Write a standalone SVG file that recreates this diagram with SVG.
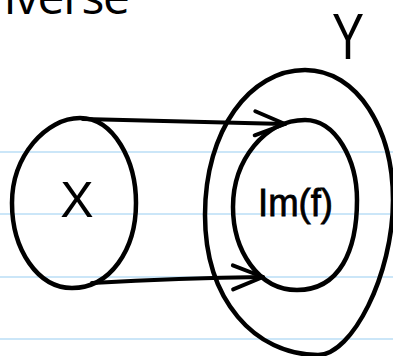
<svg xmlns="http://www.w3.org/2000/svg" width="393" height="356" viewBox="0 0 393 356">
<defs>
<style>
.rule{stroke:#cbe6f8;stroke-width:2;fill:none}
.ink{fill:none;stroke:#000;stroke-width:4.5;stroke-linecap:round;stroke-linejoin:round}
.conn{fill:none;stroke:#000;stroke-width:4;stroke-linecap:round;stroke-linejoin:round}
.hand{font-family:"Liberation Sans",Arial,sans-serif;fill:#000}
.title{font-family:"Open Sans","Liberation Sans",sans-serif;font-weight:400;fill:#000}
</style>
<marker id="head" markerUnits="userSpaceOnUse" viewBox="-34 -16 38 32" refX="0" refY="0" markerWidth="38" markerHeight="32" orient="auto" overflow="visible">
<path d="M-30,-12 L0,0 L-30,12" fill="none" stroke="#000" stroke-width="4" stroke-linecap="round" stroke-linejoin="round"/>
</marker>
</defs>
<rect width="393" height="356" fill="#fff"/>
<g id="ruled-lines">
<line class="rule" x1="0" y1="152" x2="393" y2="152"/>
<line class="rule" x1="0" y1="214" x2="393" y2="214"/>
<line class="rule" x1="0" y1="277" x2="393" y2="277"/>
<line class="rule" x1="0" y1="339" x2="393" y2="339"/>
</g>
<text class="title" x="4" y="14" font-size="48" textLength="126" lengthAdjust="spacing">iverse</text>
<g id="set-Y">
<path class="ink" d="M305,70 C358,70 393,130 393,200 C393,275 352,355 318,355 C255,355 205,300 205,215 C205,130 250,70 305,70 Z"/>
<text class="hand" x="332" y="59" font-size="64" textLength="32" lengthAdjust="spacingAndGlyphs">Y</text>
</g>
<g id="set-X">
<path class="ink" d="M80,118 C114,118 136,161 136,203 C136,250 110,288 72,288 C38,288 12,250 12,203 C12,156 46,118 80,118 Z"/>
<text class="hand" x="77" y="217" font-size="50" text-anchor="middle">X</text>
</g>
<g id="image-f">
<path class="ink" d="M305,120 C336,120 357,160 357,200 C357,250 340,290 297,290 C258,290 233,250 233,207 C233,160 265,120 305,120 Z"/>
<text class="hand" x="258" y="216" font-size="38" textLength="75" lengthAdjust="spacingAndGlyphs" stroke="#000" stroke-width="0.8">Im(f)</text>
</g>
<g id="connectors">
<path class="conn" d="M83,119 L285,124" marker-end="url(#head)"/>
<path class="conn" d="M92,283 Q180,278 263,277" marker-end="url(#head)"/>
</g>
</svg>
